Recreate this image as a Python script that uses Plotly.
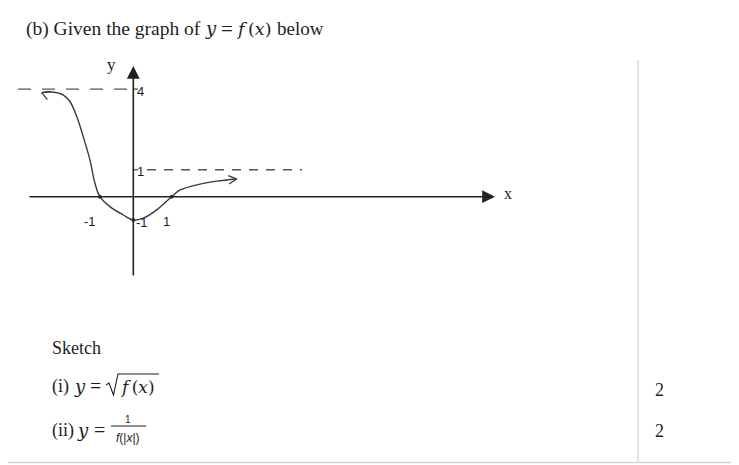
import math
import plotly.graph_objects as go

# ---------------- data ----------------
curve_x = [-2.58, -2.35, -1.97, -1.78, -1.59, -1.41, -1.22, -1.08, -0.94,
           -0.66, -0.28, 0.0, 0.28, 0.66, 1.08, 1.32, 1.88, 2.35, 2.91]
curve_y = [3.87, 3.90, 3.78, 3.53, 2.97, 2.23, 1.36, 0.50, 0.0,
           -0.37, -0.68, -0.87, -0.80, -0.49, 0.0, 0.25, 0.47, 0.58, 0.66]
x_intercepts = [-0.94, 1.08]
y_intercept = -0.87
left_asymptote = 4
right_asymptote = 1
x_tick_labels = ["-1", "1"]
x_tick_values = [-1, 1]
y_tick_labels = ["4", "1"]
y_tick_values = [4, 1]
marks = ["2", "2"]

# ---------------- layout / scales ----------------
OFF = 8                       # page body margin
W, H = 739 - OFF, 465 - OFF
X0, Y0, SX, SY = 133.3, 196.7, 35.5, 26.9      # origin (page px), px per unit

def dx(px):   # page pixel -> data x
    return (px - X0) / SX

def dy(py):   # page pixel -> data y
    return (Y0 - py) / SY

def ppx(px):
    return (px - OFF) / W

def ppy(py):
    return 1 - (py - OFF) / H

xr = [dx(OFF), dx(OFF + W)]
yr = [dy(OFF + H), dy(OFF)]

INK = "#3a3a3a"
TXT = "#1e1e1e"
SERIF = "Liberation Serif, Times New Roman, serif"
MATH = "DejaVu Serif, Liberation Serif, serif"
SANS = "Liberation Sans, Arial, sans-serif"

fig = go.Figure()

fig.add_trace(go.Scatter(x=curve_x, y=curve_y, mode="lines",
                         line=dict(color=INK, width=1.4, shape="spline", smoothing=1.0),
                         hoverinfo="skip", showlegend=False))
fig.add_trace(go.Scatter(x=x_intercepts + [0], y=[0, 0, y_intercept], mode="markers",
                         marker=dict(color=INK, size=4),
                         hoverinfo="skip", showlegend=False))

shapes = []
annotations = []

def open_head(xa, ya, xb, yb, length=9, spread=28):
    pax, pay = X0 + xa * SX, Y0 - ya * SY
    pbx, pby = X0 + xb * SX, Y0 - yb * SY
    ang = math.atan2(pay - pby, pax - pbx)
    for s in (-1, 1):
        a = ang + math.pi + s * math.radians(spread)
        ex, ey = pax + length * math.cos(a), pay + length * math.sin(a)
        shapes.append(dict(type="line", xref="x", yref="y",
                           x0=xa, y0=ya, x1=dx(ex), y1=dy(ey),
                           line=dict(color=INK, width=1.3)))

open_head(curve_x[0], curve_y[0], curve_x[2], curve_y[2] - 0.25)
open_head(curve_x[-1], curve_y[-1], curve_x[-2], curve_y[-2])

# axes with filled arrow heads
annotations.append(dict(x=dx(495), y=0, ax=dx(28), ay=0, xref="x", yref="y",
                        axref="x", ayref="y", showarrow=True, arrowhead=2,
                        arrowsize=1.6, arrowwidth=1.6, arrowcolor="#222", text=""))
annotations.append(dict(x=0, y=dy(66), ax=0, ay=dy(277), xref="x", yref="y",
                        axref="x", ayref="y", showarrow=True, arrowhead=2,
                        arrowsize=1.6, arrowwidth=1.6, arrowcolor="#222", text=""))

# asymptotes (dashed)
shapes.append(dict(type="line", xref="x", yref="y", x0=dx(18), x1=dx(131),
                   y0=left_asymptote, y1=left_asymptote,
                   line=dict(color="#555", width=1.4, dash="13px,11px")))
shapes.append(dict(type="line", xref="x", yref="y", x0=dx(147), x1=dx(302),
                   y0=right_asymptote, y1=right_asymptote,
                   line=dict(color="#555", width=1.4, dash="9px,8px")))
for v in y_tick_values:
    shapes.append(dict(type="line", xref="x", yref="y", x0=0, x1=dx(138),
                       y0=v, y1=v, line=dict(color="#444", width=1.2)))

# tick labels
for lab, v in zip(y_tick_labels, y_tick_values):
    annotations.append(dict(x=dx(135), y=v, xref="x", yref="y", text=lab,
                            showarrow=False, xanchor="left", yanchor="middle",
                            yshift=-2, font=dict(family=SANS, size=13, color=TXT)))
x_label_shift = {-1: -8, 1: -2}
for lab, v in zip(x_tick_labels, x_tick_values):
    annotations.append(dict(x=v, y=0, xref="x", yref="y", text=lab,
                            showarrow=False, xanchor="center", yanchor="middle",
                            xshift=x_label_shift[v], yshift=-25,
                            font=dict(family=SANS, size=13, color=TXT)))
annotations.append(dict(x=0, y=y_intercept, xref="x", yref="y", text="-1",
                        showarrow=False, xanchor="left", yanchor="middle",
                        xshift=1, yshift=-2, font=dict(family=SANS, size=13, color=TXT)))

# axis names
annotations.append(dict(x=0, y=dy(64), xref="x", yref="y", text="y", showarrow=False,
                        xanchor="center", yanchor="middle", xshift=-22,
                        font=dict(family=SERIF, size=17, color=TXT)))
annotations.append(dict(x=dx(508), y=dy(193), xref="x", yref="y", text="x", showarrow=False,
                        xanchor="center", yanchor="middle",
                        font=dict(family=SERIF, size=16, color=TXT)))

def txt(px, py, s, size=18, family=SERIF, anchor="left"):
    annotations.append(dict(x=ppx(px), y=ppy(py), xref="paper", yref="paper", text=s,
                            showarrow=False, xanchor=anchor, yanchor="middle",
                            font=dict(family=family, size=size, color=TXT)))

# title
txt(24, 29, "(b) Given the graph of", size=19.5)
txt(203, 29, "<i>y</i>", size=18, family=MATH)
txt(219, 29, "=", size=21)
txt(234, 29, "<i>f</i>\u2009(<i>x</i>)", size=17.5, family=MATH)
txt(275, 29, "below", size=19)

txt(50, 348, "Sketch")

# (i)
txt(50, 386, "(i)")
txt(72, 386, "<i>y</i>", size=18, family=MATH)
txt(88, 386, "=", size=20)
txt(118, 387, "<i>f</i>\u2009(<i>x</i>)", size=17, family=MATH)
shapes.append(dict(type="path", xref="paper", yref="paper",
                   path="M {:.5f},{:.5f} L {:.5f},{:.5f} L {:.5f},{:.5f} L {:.5f},{:.5f} L {:.5f},{:.5f}".format(
                       ppx(106), ppy(385), ppx(109), ppy(383), ppx(113.5), ppy(395),
                       ppx(118), ppy(374), ppx(159), ppy(374)),
                   line=dict(color=TXT, width=1.1)))

# (ii)
txt(50, 430, "(ii)")
txt(75, 430, "<i>y</i>", size=18, family=MATH)
txt(92, 430, "=", size=20)
txt(128, 419, "1", size=10, family=SANS, anchor="center")
txt(128, 438, "<i>f</i>(|<i>x</i>|)", size=12, family=SANS, anchor="center")
shapes.append(dict(type="line", xref="paper", yref="paper", x0=ppx(111), x1=ppx(146),
                   y0=ppy(426), y1=ppy(426), line=dict(color=TXT, width=1)))

# marks
txt(659, 390, marks[0], size=18, anchor="center")
txt(659, 431, marks[1], size=18, anchor="center")

# page frame
FR = "#d6d6d6"
shapes.append(dict(type="line", xref="paper", yref="paper", x0=ppx(638), x1=ppx(638),
                   y0=ppy(60), y1=ppy(462), line=dict(color=FR, width=1.3)))
shapes.append(dict(type="line", xref="paper", yref="paper", x0=ppx(737.5), x1=ppx(737.5),
                   y0=1, y1=ppy(462), line=dict(color=FR, width=1.3)))
shapes.append(dict(type="line", xref="paper", yref="paper", x0=0, x1=1,
                   y0=ppy(462.5), y1=ppy(462.5), line=dict(color=FR, width=1.5)))

fig.update_layout(
    width=W, height=H, autosize=False,
    margin=dict(l=0, r=0, t=0, b=0),
    paper_bgcolor="white", plot_bgcolor="white",
    xaxis=dict(range=xr, visible=False, fixedrange=True),
    yaxis=dict(range=yr, visible=False, fixedrange=True),
    shapes=shapes, annotations=annotations, showlegend=False,
)

fig.write_html("out.html")
